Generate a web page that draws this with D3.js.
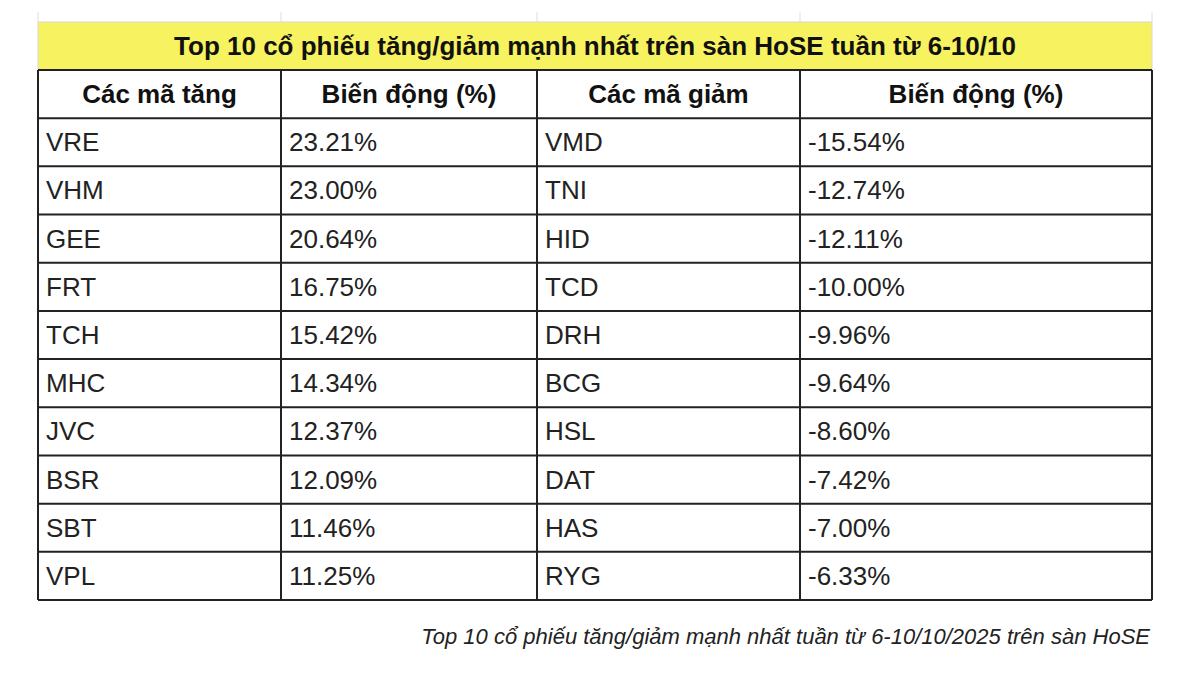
<!DOCTYPE html>
<html><head><meta charset="utf-8">
<script src="https://cdn.jsdelivr.net/npm/d3@7"></script>
<style>body{margin:0;background:#fff}</style>
</head><body><svg></svg>
<script>
const width = 1200, height = 674;

// Data
const title = "Top 10 cổ phiếu tăng/giảm mạnh nhất trên sàn HoSE tuần từ 6-10/10";
const headers = ["Các mã tăng", "Biến động (%)", "Các mã giảm", "Biến động (%)"];
const gainers = ["VRE", "VHM", "GEE", "FRT", "TCH", "MHC", "JVC", "BSR", "SBT", "VPL"];
const gainValues = [23.21, 23.00, 20.64, 16.75, 15.42, 14.34, 12.37, 12.09, 11.46, 11.25];
const losers = ["VMD", "TNI", "HID", "TCD", "DRH", "BCG", "HSL", "DAT", "HAS", "RYG"];
const loseValues = [-15.54, -12.74, -12.11, -10.00, -9.96, -9.64, -8.60, -7.42, -7.00, -6.33];
const caption = "Top 10 cổ phiếu tăng/giảm mạnh nhất tuần từ 6-10/10/2025 trên sàn HoSE";

const svg = d3.select("svg").attr("width", width).attr("height", height)
    .style("font-family", "Liberation Sans, Arial, sans-serif");

const colX = [38, 281, 537, 800, 1152];
const tableTop = 22, titleH = 48;
// rows: header + 10 data rows
const rowKeys = ["header"].concat(d3.range(10));
const y = d3.scaleBand().domain(rowKeys).range([70, 600]);

// faint spreadsheet grid above the table
colX.forEach(x => {
    svg.append("line").attr("x1", x).attr("x2", x).attr("y1", 12).attr("y2", tableTop)
        .attr("stroke", "#ddd");
});

// title
svg.append("rect").attr("x", colX[0]).attr("y", tableTop).attr("width", colX[4] - colX[0]).attr("height", titleH)
    .attr("fill", "#f7f260").attr("stroke", "#d8d8d8");
svg.append("text").attr("x", (colX[0] + colX[4]) / 2).attr("y", tableTop + titleH / 2 + 9)
    .attr("text-anchor", "middle").attr("font-size", 26).attr("font-weight", "bold").attr("fill", "#111")
    .text(title);

// header
headers.forEach((h, i) => {
    svg.append("text").attr("x", (colX[i] + colX[i + 1]) / 2).attr("y", y("header") + y.bandwidth() / 2 + 9)
        .attr("text-anchor", "middle").attr("font-size", 26).attr("font-weight", "bold").attr("fill", "#111")
        .text(h);
});

const fmt = v => v.toFixed(2) + "%";
const rows = d3.range(10).map(i => [gainers[i], fmt(gainValues[i]), losers[i], fmt(loseValues[i])]);
rows.forEach((r, ri) => {
    r.forEach((c, i) => {
        svg.append("text").attr("x", colX[i] + 8).attr("y", y(ri) + y.bandwidth() / 2 + 9)
            .attr("font-size", 26).attr("fill", "#222").text(c);
    });
});

// grid lines
rowKeys.concat(["end"]).forEach(k => {
    const yy = k === "end" ? 600 : y(k);
    svg.append("line").attr("x1", colX[0]).attr("x2", colX[4]).attr("y1", yy).attr("y2", yy)
        .attr("stroke", "#222").attr("stroke-width", 2);
});
colX.forEach(x => {
    svg.append("line").attr("x1", x).attr("x2", x).attr("y1", 70).attr("y2", 600)
        .attr("stroke", "#222").attr("stroke-width", 2);
});

// caption
svg.append("text").attr("x", 1150).attr("y", 644).attr("text-anchor", "end")
    .attr("font-size", 22).attr("font-style", "italic").attr("fill", "#222").text(caption);
</script></body></html>
